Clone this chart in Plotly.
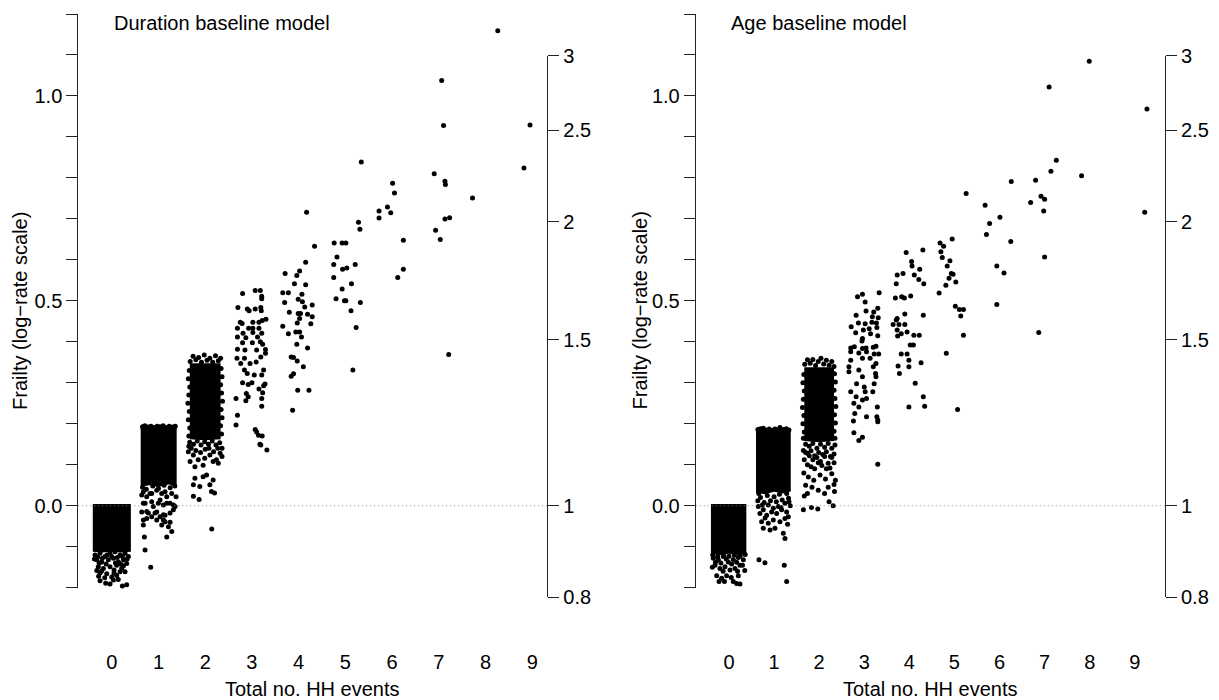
import numpy as np
import plotly.graph_objects as go

W, H = 1219, 700
FONT = "Liberation Sans, Arial, Helvetica, sans-serif"
FS = 20

# ---------------------------------------------------------------- data
categories = list(range(10))                 # total no. HH events
frailty_ticks = [round(-0.2 + 0.1 * i, 1) for i in range(15)]
frailty_labels = {0.0: "0.0", 0.5: "0.5", 1.0: "1.0"}
rate_ticks = [0.8, 1, 1.5, 2, 2.5, 3]
rate_labels = ["0.8", "1", "1.5", "2", "2.5", "3"]

# ---- Duration baseline model: (jittered no. events, frailty) ----
dur_sparse = [
    (8.95, .929), (8.82, .824), (8.26, 1.159), (7.72, .751),
    (7.06, 1.038), (7.10, .928), (6.90, .810), (7.13, .792), (7.14, .784), (7.13, .700),
    (7.23, .703), (6.93, .672), (7.03, .650), (7.21, .369),
    (6.01, .787), (6.05, .763), (5.90, .729), (5.72, .719), (5.97, .715), (5.72, .702),
    (6.24, .648), (6.24, .577), (6.12, .557),
    (5.34, .839), (5.28, .692), (5.31, .675), (4.76, .641), (4.93, .641), (5.01, .641),
    (4.82, .607), (4.75, .589), (5.21, .589), (4.94, .577), (5.03, .580), (4.75, .557),
    (5.13, .542), (4.93, .529), (4.80, .505), (4.98, .500), (5.01, .500), (5.32, .496),
    (5.12, .476), (5.23, .435), (5.16, .331),
    (4.17, .716), (4.34, .633), (4.15, .594), (4.02, .573), (3.71, .567), (3.96, .562),
    (3.91, .542), (4.15, .539), (3.66, .520), (3.78, .520), (4.07, .516), (3.99, .504),
    (3.70, .496), (4.08, .498), (4.29, .490), (4.13, .485), (3.80, .472), (3.99, .469),
    (4.04, .469), (4.19, .467), (4.29, .461), (4.02, .457), (3.97, .446), (4.26, .444),
    (3.66, .438), (3.78, .420), (3.94, .424), (4.02, .424), (4.06, .412), (3.96, .394),
    (4.19, .385), (3.84, .363), (3.89, .362), (3.97, .353), (4.10, .339), (3.89, .322),
    (3.84, .316), (3.98, .282), (4.22, .282), (3.87, .233),
    (2.80, .518), (3.07, .525), (3.18, .525), (3.21, .511), (3.21, .505), (2.70, .484),
    (2.90, .480), (2.94, .476), (3.07, .480), (3.19, .484), (3.20, .476), (2.75, .448),
    (2.79, .445), (3.02, .448), (3.15, .448), (3.22, .452), (3.30, .455), (2.69, .433),
    (2.93, .433), (3.02, .433), (3.15, .433), (2.81, .421), (3.02, .423), (3.21, .421),
    (2.69, .412), (2.87, .410), (3.12, .412), (2.80, .398), (3.01, .398), (3.18, .400),
    (3.23, .394), (2.69, .382), (2.85, .380), (3.10, .380), (3.29, .381),
    (2.68, .360), (2.84, .360), (2.76, .347), (2.96, .347), (3.09, .351), (3.19, .363),
    (3.29, .372), (3.25, .331), (3.21, .319), (3.05, .319), (2.84, .331), (2.90, .323),
    (2.80, .300), (3.00, .300), (2.92, .296), (3.15, .285), (3.25, .293), (3.28, .297),
    (2.88, .274), (2.92, .266), (3.23, .276), (3.21, .262), (2.66, .262), (2.87, .256),
    (3.21, .243), (2.69, .221), (2.66, .197), (3.07, .186), (3.10, .180), (3.14, .172),
    (3.22, .170), (3.17, .150), (3.19, .148), (3.32, .136),
]
dur_c2 = [
    (1.68, .352), (1.74, .365), (1.80, .356), (1.86, .362), (1.92, .350), (1.98, .368),
    (2.04, .355), (2.10, .360), (2.16, .350), (2.22, .366), (2.28, .354), (2.33, .360),
    (1.66, .330), (1.64, .310), (1.67, .290), (1.65, .270), (1.63, .250), (1.66, .230),
    (1.64, .210), (1.67, .190), (1.65, .170),
    (2.34, .335), (2.36, .315), (2.33, .295), (2.35, .275), (2.37, .255), (2.34, .235),
    (2.36, .215), (2.33, .195), (2.35, .175),
    (1.67, .155), (1.75, .150), (1.83, .158), (1.91, .148), (1.99, .156), (2.07, .150),
    (2.15, .158), (2.23, .148), (2.31, .154), (1.70, .140), (1.80, .135), (1.90, .130),
    (2.00, .138), (2.08, .140), (2.18, .132), (2.27, .140), (2.36, .140), (1.65, .145),
    (2.36, .120), (1.64, .132), (1.747, .124), (1.85, .112), (1.99, .116), (2.10, .124),
    (2.24, .112), (2.32, .128), (1.676, .108), (1.78, .095), (1.956, .099), (2.17, .108),
    (2.28, .104),
    (1.78, .067), (1.956, .071), (2.03, .075), (2.17, .063), (1.747, .051), (1.885, .047),
    (2.10, .051), (2.134, .035), (2.20, .031), (1.747, .023), (1.87, .015), (2.14, -.057),
]
dur_c1 = [
    (0.66, .193), (0.71, .195), (0.78, .192), (0.84, .194), (0.90, .191), (0.97, .194),
    (1.03, .193), (1.10, .195), (1.16, .191), (1.23, .194), (1.30, .192), (1.36, .194),
    (0.66, .045), (0.74, .040), (0.88, .048), (1.00, .042), (1.12, .050), (1.25, .044),
    (1.35, .048), (0.70, .055), (0.95, .056), (1.18, .058), (1.30, .055),
    (0.677, .034), (0.82, .030), (0.963, .038), (1.141, .034), (1.284, .030), (0.713, .006),
    (0.856, .010), (1.034, .014), (1.177, .006), (1.32, .002), (0.749, -.014), (0.927, -.018),
    (1.106, -.022), (1.248, -.018), (0.677, -.035), (0.963, -.035), (1.141, -.039),
    (1.213, -.051), (1.284, -.063), (1.177, -.076),
    (0.642, .026), (0.749, .022), (0.856, .030), (1.070, .030), (1.177, .022), (1.377, .022),
    (0.677, .006), (0.891, -.002), (0.998, .006), (1.105, .002), (1.248, .006), (1.355, -.002),
    (0.642, -.015), (0.784, -.018), (0.963, -.015), (1.034, -.027), (1.141, -.023),
    (1.319, -.010), (0.749, -.031), (0.856, -.027), (1.105, -.035), (0.677, -.047),
    (1.070, -.047), (1.248, -.040),
    (0.699, -.076), (0.713, -.108), (0.834, -.150), (0.792, -.204),
]
dur_c0 = [
    (-0.357, -.120), (-0.25, -.116), (-0.143, -.124), (-0.036, -.116), (0.071, -.112),
    (0.178, -.120), (0.285, -.116), (0.357, -.124), (-0.321, -.132), (-0.214, -.137),
    (-0.071, -.132), (0.036, -.128), (0.143, -.137), (0.25, -.132), (0.32, -.141),
    (-0.286, -.149), (-0.179, -.153), (-0.036, -.149), (0.107, -.145), (0.214, -.153),
    (0.285, -.161), (-0.25, -.164), (-0.107, -.166), (0.0, -.174), (0.107, -.170),
    (0.178, -.161), (-0.25, -.183), (-0.129, -.189), (-0.036, -.191), (0.036, -.181),
    (0.228, -.196), (0.32, -.193), (0.306, -.226),
    (-0.30, -.125), (-0.20, -.128), (-0.10, -.120), (0.0, -.124), (0.12, -.126), (0.23, -.124),
    (0.33, -.130), (-0.37, -.130), (-0.27, -.140), (-0.12, -.142), (0.08, -.140), (0.20, -.143),
    (-0.32, -.158), (-0.22, -.160), (0.05, -.157), (0.25, -.147), (-0.15, -.176), (0.14, -.180),
    (-0.28, -.172), (0.05, -.165),
]
# dense cores: outline of the fully over-plotted block of each cluster
dur_core0 = [(-0.405, .004), (0.41, .004), (0.41, -.112), (0.20, -.114), (0.0, -.112),
             (-0.20, -.114), (-0.405, -.112)]
dur_core1 = [(0.62, .194), (1.39, .194), (1.39, .050), (1.20, .052), (1.00, .046),
             (0.80, .050), (0.62, .046)]
dur_core2 = [(1.67, .348), (2.33, .348), (2.33, .162), (2.00, .160), (1.67, .162)]

# ---- Age baseline model ----
age_sparse = [
    (9.27, .968), (9.22, .716), (7.99, 1.085), (7.82, .805),
    (7.10, 1.022), (7.26, .843), (7.14, .816), (6.92, .755), (7.00, .748), (6.69, .740),
    (6.98, .719), (7.00, .607), (6.87, .423), (6.80, .794),
    (6.26, .791), (5.68, .733), (6.01, .704), (5.78, .689), (5.71, .662), (6.25, .645),
    (5.94, .585), (6.10, .568), (5.94, .491),
    (5.26, .762), (4.95, .651), (4.68, .641), (4.76, .633), (4.70, .620), (4.73, .606),
    (4.90, .598), (4.84, .585), (4.93, .567), (4.97, .565), (4.88, .555), (5.03, .546),
    (4.81, .538), (4.66, .519), (5.02, .487), (5.11, .479), (5.20, .479), (5.14, .463),
    (5.20, .416), (4.82, .372), (5.07, .235),
    (3.93, .618), (4.30, .624), (4.05, .596), (4.06, .585), (4.23, .577), (3.73, .563),
    (3.86, .567), (4.11, .563), (4.21, .552), (4.32, .542), (3.71, .542), (3.69, .507),
    (3.83, .510), (3.89, .507), (4.03, .512), (4.31, .465), (3.90, .468), (3.73, .457),
    (3.71, .453), (3.64, .442), (3.77, .442), (3.90, .442), (3.73, .429), (3.95, .424),
    (3.82, .420), (4.10, .416), (4.22, .416), (3.74, .414), (4.02, .392), (4.09, .392),
    (3.82, .370), (3.95, .370), (3.75, .341), (3.78, .323), (3.99, .355), (3.99, .339),
    (4.26, .349), (4.13, .299), (4.31, .266), (3.99, .241), (4.34, .243),
    (2.85, .510), (2.96, .516), (3.02, .497), (3.33, .520), (2.82, .465), (3.04, .475),
    (3.21, .473), (3.30, .482), (3.18, .461), (3.31, .459), (2.87, .446), (3.02, .444),
    (3.17, .448), (3.27, .446), (2.71, .437), (2.98, .429), (3.11, .432), (3.28, .435),
    (3.30, .415), (2.81, .422), (3.14, .420), (2.96, .408), (2.95, .402), (2.70, .385),
    (2.78, .388), (2.96, .384), (3.04, .385), (3.20, .387), (3.26, .389),
    (2.70, .376), (2.88, .373), (3.05, .376), (3.22, .370), (3.32, .370), (2.70, .355),
    (2.96, .360), (3.13, .360), (3.26, .347), (2.66, .339), (2.66, .327), (2.88, .331),
    (3.20, .339), (3.25, .323), (2.96, .315), (3.26, .315), (2.83, .298), (3.00, .290),
    (3.22, .298), (2.70, .278), (3.02, .278), (3.19, .278), (2.82, .266), (2.96, .258),
    (3.05, .262), (2.77, .250), (2.88, .241), (3.29, .241), (2.79, .225), (3.28, .217),
    (2.76, .207), (3.05, .217), (3.30, .205), (3.30, .209), (2.77, .178), (2.96, .167),
    (2.88, .159), (3.30, .101),
]
age_c2 = [
    (1.68, .345), (1.74, .356), (1.80, .348), (1.86, .357), (1.92, .342), (1.98, .352),
    (2.04, .360), (2.10, .346), (2.16, .355), (2.22, .343), (2.28, .352), (2.33, .340),
    (1.66, .320), (1.64, .300), (1.67, .280), (1.65, .260), (1.63, .240), (1.66, .220),
    (1.64, .200), (1.67, .180), (1.65, .165),
    (2.34, .322), (2.36, .302), (2.33, .282), (2.35, .262), (2.37, .242), (2.34, .222),
    (2.36, .202), (2.33, .182), (2.35, .165),
    (1.70, .150), (1.78, .145), (1.86, .152), (1.95, .140), (2.03, .150), (2.12, .143),
    (2.20, .152), (2.28, .140), (2.35, .148), (1.65, .135), (1.74, .128), (1.82, .134),
    (1.90, .122), (1.99, .130), (2.08, .125), (2.16, .132), (2.25, .120), (2.33, .126),
    (1.70, .130), (1.78, .122), (1.86, .112), (1.95, .118), (2.03, .108), (2.12, .120),
    (2.20, .104), (2.28, .118), (1.67, .112), (1.74, .100), (1.82, .095), (1.90, .090),
    (1.98, .105), (2.06, .098), (2.16, .090), (2.24, .092), (2.33, .105), (1.66, .080),
    (1.76, .070), (1.88, .062), (2.02, .075), (2.14, .065), (2.28, .078), (2.36, .062),
    (1.70, .050), (1.84, .045), (1.98, .038), (2.20, .045), (2.33, .052), (1.74, .030),
    (2.12, .030), (2.34, .035),
    (1.67, .024), (1.65, -.010), (1.83, -.004), (1.97, -.008), (2.22, .010), (2.31, .000),
]
age_c1 = [
    (0.64, .186), (0.70, .188), (0.76, .189), (0.82, .185), (0.89, .187), (0.95, .184),
    (1.02, .187), (1.08, .185), (1.13, .191), (1.20, .186), (1.27, .188), (1.33, .185),
    (0.650, -.002), (0.761, -.010), (0.872, .002), (0.983, -.006), (1.094, -.002), (1.242, .006),
    (1.331, .010), (0.687, -.019), (0.835, -.023), (0.946, -.015), (1.057, -.019), (1.168, -.010),
    (1.279, -.015), (0.724, -.039), (0.872, -.043), (0.983, -.035), (1.131, -.039), (1.242, -.031),
    (1.316, -.027), (0.761, -.055), (0.910, -.059), (1.020, -.055), (1.205, -.067), (1.242, -.080),
    (0.665, -.132), (0.798, -.139), (1.227, -.145), (1.279, -.185),
    (0.64, .012), (0.78, .008), (0.92, .012), (1.05, .010), (1.18, .014), (1.32, .018),
    (0.70, .020), (1.00, .022), (1.36, .000), (0.66, .030), (0.85, .025), (1.12, .028),
    (1.28, .030), (0.74, .002), (1.15, -.004), (0.80, -.030), (1.30, -.045),
]
age_c0 = [
    (-0.36, -.120), (-0.25, -.123), (-0.12, -.119), (0.0, -.123), (0.12, -.120), (0.25, -.122),
    (0.36, -.119), (-0.348, -.128), (-0.237, -.132), (-0.126, -.124), (-0.015, -.137),
    (0.096, -.131), (0.207, -.126), (0.318, -.132), (-0.31, -.145), (-0.20, -.153),
    (-0.089, -.149), (0.022, -.157), (0.133, -.153), (0.244, -.145), (-0.273, -.171),
    (-0.163, -.177), (-0.052, -.171), (0.096, -.185), (0.207, -.171), (0.244, -.191),
    (0.05, -.175), (-0.10, -.185), (0.17, -.190), (-0.259, -.218), (-0.163, -.234),
    (-0.30, -.138), (-0.18, -.140), (-0.06, -.130), (0.06, -.142), (0.17, -.138), (0.30, -.145),
    (-0.37, -.150), (0.35, -.158), (-0.13, -.160), (0.19, -.160), (-0.22, -.185),
]
age_core0 = [(-0.40, .004), (0.385, .004), (0.385, -.118), (0.20, -.120), (0.0, -.117),
             (-0.20, -.120), (-0.40, -.117)]
age_core1 = [(0.60, .187), (1.37, .187), (1.37, .035), (1.20, .030), (1.00, .034),
             (0.80, .028), (0.60, .032)]
age_core2 = [(1.67, .338), (2.33, .338), (2.33, .158), (2.00, .155), (1.67, .158)]

# ---------------------------------------------------------------- layout geometry
YR = [-0.2, 1.2]
Y_DOM = [1 - 587.7 / H, 1 - 14 / H]
panels = [
    dict(name="Duration baseline model", xa="x", ya="y", ra="y3",
         xdom=[78.3 / W, 547.3 / W], xr=[-0.715, 9.32],
         pts=dur_sparse + dur_c2 + dur_c1 + dur_c0,
         cores=[dur_core0, dur_core1, dur_core2], ytitle_x=20 / W),
    dict(name="Age baseline model", xa="x2", ya="y2", ra="y4",
         xdom=[695.7 / W, 1165 / W], xr=[-0.738, 9.67],
         pts=age_sparse + age_c2 + age_c1 + age_c0,
         cores=[age_core0, age_core1, age_core2], ytitle_x=639.5 / W),
]


def ypaper(v):
    return Y_DOM[0] + (v - YR[0]) / (YR[1] - YR[0]) * (Y_DOM[1] - Y_DOM[0])


fig = go.Figure()
layout = dict(template="none", width=W, height=H, margin=dict(l=0, r=0, t=0, b=0, pad=0),
              autosize=False, paper_bgcolor="white", plot_bgcolor="rgba(0,0,0,0)",
              showlegend=False, font=dict(family=FONT, size=FS, color="black"))
annotations, shapes = [], []
AX = "#222"

for i, p in enumerate(panels):
    fig.add_trace(go.Scatter(x=[None], y=[None], xaxis=p["xa"], yaxis=p["ra"],
                             mode="markers", hoverinfo="skip"))
    for core in p["cores"]:
        cx = [c[0] for c in core] + [core[0][0]]
        cy = [c[1] for c in core] + [core[0][1]]
        fig.add_trace(go.Scatter(x=cx, y=cy, mode="lines", fill="toself", fillcolor="black",
                                 line=dict(width=0, color="black"), hoverinfo="skip",
                                 xaxis=p["xa"], yaxis=p["ya"]))
    fig.add_trace(go.Scatter(x=[q[0] for q in p["pts"]], y=[q[1] for q in p["pts"]],
                             mode="markers", marker=dict(size=5, color="black", line_width=0),
                             cliponaxis=False, xaxis=p["xa"], yaxis=p["ya"]))

    xk = "xaxis" if i == 0 else "xaxis2"
    yk = "yaxis" if i == 0 else "yaxis2"
    rk = "yaxis3" if i == 0 else "yaxis4"
    layout[xk] = dict(domain=p["xdom"], range=p["xr"], anchor="free", position=1 - 648 / H,
                      tickvals=categories, ticktext=[str(c) for c in categories],
                      ticks="", showline=False, showgrid=False, zeroline=False,
                      automargin=False, tickfont=dict(size=FS, family=FONT, color="black"))
    layout[yk] = dict(domain=Y_DOM, range=YR, anchor=p["xa"], showline=True, linecolor=AX,
                      linewidth=1, ticks="outside", ticklen=11, tickcolor=AX, tickwidth=1,
                      tickvals=frailty_ticks,
                      ticktext=[frailty_labels.get(t, "") for t in frailty_ticks],
                      showgrid=False, zeroline=False, automargin=False,
                      tickfont=dict(size=FS, family=FONT, color="black"))
    lo, hi = np.log(rate_ticks[0]), np.log(rate_ticks[-1])
    layout[rk] = dict(domain=[ypaper(lo), ypaper(hi)], range=[lo, hi], anchor="free",
                      position=p["xdom"][1], side="right", showline=True, linecolor=AX,
                      linewidth=1, ticks="outside", ticklen=11, tickcolor=AX, tickwidth=1,
                      tickvals=list(np.log(rate_ticks)), ticktext=rate_labels,
                      showgrid=False, zeroline=False, automargin=False,
                      tickfont=dict(size=FS, family=FONT, color="black"))
    shapes.append(dict(type="line", xref=f"{p['xa']} domain", x0=0, x1=1, yref=p["ya"],
                       y0=0, y1=0, line=dict(color="#808080", width=1, dash="1px,3px")))
    annotations += [
        dict(text=p["name"], xref=p["xa"], x=0, xanchor="left", yref="paper",
             y=1 - 22.7 / H, yanchor="middle", showarrow=False, font=dict(size=FS)),
        dict(text="Total no. HH events", xref="paper", x=sum(p["xdom"]) / 2, xanchor="center",
             yref="paper", y=1 - 689 / H, yanchor="middle", showarrow=False, font=dict(size=FS)),
        dict(text="Frailty (log\u2212rate scale)", xref="paper", x=p["ytitle_x"],
             xanchor="center", yref="paper", y=1 - 311 / H, yanchor="middle", textangle=-90,
             showarrow=False, font=dict(size=FS)),
    ]

layout["annotations"] = annotations
layout["shapes"] = shapes
fig.update_layout(**layout)
fig.write_html("out.html", config={"displayModeBar": False},
               post_script="document.body.style.margin='0';document.body.style.overflow='hidden';")
